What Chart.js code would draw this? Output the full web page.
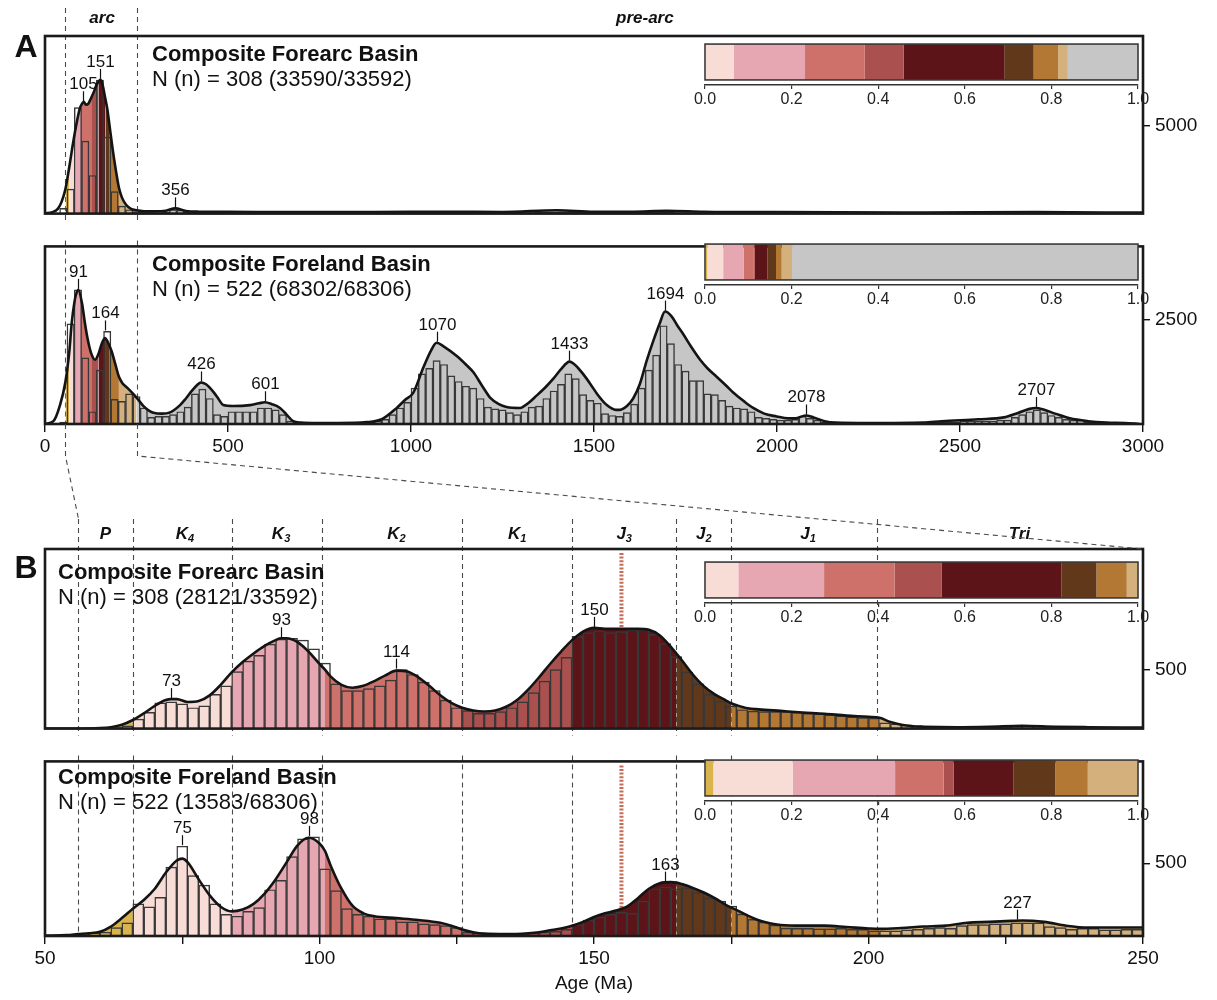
<!DOCTYPE html>
<html>
<head>
<meta charset="utf-8">
<script src="https://cdn.jsdelivr.net/npm/chart.js@4.4.1/dist/chart.umd.min.js"></script>
<style>
  body { margin: 0; background: #fff; }
  #wrap { position: relative; width: 1217px; height: 1000px; overflow: hidden; }
  #wrap canvas { position: absolute; left: 0; }
</style>
</head>
<body>
<div id="wrap">
  <canvas id="a1"></canvas>
  <canvas id="a2"></canvas>
  <canvas id="b1"></canvas>
  <canvas id="b2"></canvas>
  <canvas id="la1"></canvas>
  <canvas id="la2"></canvas>
  <canvas id="lb1"></canvas>
  <canvas id="lb2"></canvas>
  <canvas id="overlay"></canvas>
</div>
<script>
// age bands (Ma) used for the colouring of the KDE area and the proportion bars
const bandEdges = [56, 66, 84, 101, 126, 146, 165, 175, 202, 250];
const bandColors = ["#d9b44c", "#f8dcd6", "#e6a6b2", "#cf716b", "#aa504e",
                    "#5c1418", "#62381a", "#b47835", "#d3b07c", "#c6c6c7"];

// panel A: 20 Myr bins from 0 Ma
const binWidthA = 20;
const forearcCountsA = [
  0, 0, 300, 1400, 6030, 4130, 2170, 7600, 4350, 1250, 430, 220, 110,
  100, 60, 50, 80, 220, 200, 80, 50,
  40, 35, 30, 30, 35, 30, 30, 25, 30, 30, 30, 35, 30, 30, 25, 25, 30, 30, 35, 30,
  30, 30, 35, 35, 40, 35, 35, 40, 40,
  40, 50, 60, 60, 55, 50, 45, 40, 35, 35,
  35, 30, 30, 35, 40, 50, 60, 70, 80, 90,
  100, 95, 85, 70, 60, 50, 45, 45, 50, 55,
  60, 70, 80, 85, 80, 70, 60, 55, 50, 45,
  40, 40, 35, 35, 30, 30, 30, 25, 25, 25,
  25, 25, 25, 20, 20, 20, 20, 20, 20, 20, 20, 20, 20, 20, 20, 20, 20, 20, 20, 20,
  20, 20, 20, 20, 25, 25, 25, 25, 30, 30, 30, 30, 35, 35, 35, 35, 30, 30, 25, 25,
  20, 20, 20, 20, 15, 15, 15, 10, 10, 10
];
const forearcKdeAgeA = [0, 20, 35, 45, 56, 66, 75, 84, 95, 101, 106, 112, 118, 126, 134, 140, 146, 151, 156, 165,
  170, 175, 185, 195, 202, 210, 222, 235, 250, 270, 300, 330, 356, 385, 420, 500, 700, 900, 1100, 1250,
  1400, 1500, 1600, 1700, 1800, 2000, 2400, 2700, 3000];
const forearcKdeA = [16, 82, 272, 652, 1413, 2609, 3805, 4892, 5979, 6250, 6360, 6196, 6250, 6576, 6957, 7283, 7500, 7609, 7446, 6522,
  5979, 5218, 3641, 2283, 1467, 924, 489, 272, 190, 136, 125, 163, 299, 152, 109, 98, 82, 82, 109, 87,
  190, 109, 109, 163, 109, 82, 65, 82, 54];
const forearcPeaksA = [105, 151, 356];

const forelandCountsA = [
  0, 0, 45, 2409, 3227, 1591, 295, 1295, 2227, 591,
  545, 727, 659, 386, 159, 182, 182, 227, 295, 409,
  727, 841, 614, 227, 182, 295, 295, 295, 295, 386,
  386, 341, 227, 68, 45, 23, 23, 23, 23, 23,
  23, 23, 23, 45, 45, 68, 114, 227, 386, 523,
  864, 1205, 1341, 1523, 1432, 1159, 1023, 909, 864, 614,
  409, 364, 341, 273, 227, 295, 409, 432, 614, 795,
  955, 1205, 1091, 705, 568, 500, 250, 205, 182, 273,
  477, 864, 1295, 1659, 2364, 1932, 1432, 1273, 1045, 1045,
  727, 705, 568, 432, 386, 364, 295, 159, 136, 114,
  91, 91, 114, 182, 136, 91, 45, 34, 23, 23,
  23, 23, 23, 23, 23, 23, 23, 23, 23, 23,
  34, 34, 45, 45, 45, 68, 68, 68, 68, 68,
  91, 91, 159, 227, 295, 341, 273, 205, 159, 114,
  91, 91, 45, 45, 23, 23, 23, 0, 0, 0
];
const forelandKdeAgeA = [0, 23, 41, 56, 66, 73, 80, 84, 91, 101, 109, 116, 126, 137, 146, 155, 164, 170, 175, 182,
  191, 202, 212, 223, 241, 250, 269, 285, 296, 320, 340, 369, 385, 401, 415, 426, 440, 460, 475, 487,
  514, 560, 585, 601, 620, 642, 660, 678, 700, 742, 800, 879, 920, 961, 985, 1006, 1034, 1055, 1070, 1090,
  1125, 1150, 1170, 1195, 1216, 1240, 1261, 1298, 1320, 1343, 1370, 1389, 1410, 1433, 1450, 1470, 1489, 1510, 1535, 1560,
  1571, 1590, 1607, 1625, 1644, 1662, 1680, 1694, 1712, 1728, 1744, 1765, 1790, 1810, 1835, 1860, 1881, 1910, 1935, 1965,
  1999, 2030, 2050, 2078, 2100, 2130, 2160, 2250, 2400, 2450, 2550, 2620, 2660, 2690, 2707, 2730, 2760, 2800, 2850, 2900,
  2950, 2990];
const forelandKdeA = [0, 68, 455, 1023, 1705, 2432, 2909, 3091, 3227, 2909, 2432, 2068, 1705, 1546, 1682, 1932, 2068, 2000, 1909, 1750,
  1477, 1136, 977, 886, 727, 636, 432, 318, 273, 250, 273, 455, 614, 795, 932, 1000, 955, 773, 591, 455,
  432, 455, 500, 523, 477, 386, 227, 68, 34, 23, 23, 45, 114, 386, 591, 750, 1364, 1773, 1955, 1864,
  1636, 1432, 1250, 909, 636, 477, 409, 386, 500, 682, 909, 1091, 1318, 1500, 1409, 1205, 977, 705, 455, 341,
  341, 432, 614, 955, 1523, 2000, 2432, 2705, 2591, 2364, 2159, 1864, 1545, 1341, 1136, 932, 750, 545, 386, 250,
  182, 136, 136, 205, 159, 68, 34, 23, 34, 68, 114, 159, 273, 364, 386, 341, 250, 136, 68, 34,
  23, 0];
const forelandPeaksA = [91, 164, 426, 601, 1070, 1433, 1694, 2078, 2707];

// panel B: 2 Myr bins from 50 Ma
const binWidthB = 2;
const forearcCountsB = [
  0, 0, 0, 0, 0, 2, 8, 24, 81, 137,
  218, 226, 210, 177, 193, 290, 363, 484, 572, 621,
  717, 758, 766, 750, 677, 556, 379, 322, 322, 339,
  363, 411, 500, 459, 395, 322, 242, 177, 153, 129,
  129, 145, 177, 226, 306, 403, 500, 605, 782, 814,
  830, 814, 822, 838, 838, 800, 720, 610, 480, 380,
  290, 230, 190, 160, 148, 145, 145, 145, 138, 130,
  124, 116, 108, 100, 93, 88, 48, 40, 32, 24,
  16, 12, 12, 10, 10, 12, 14, 16, 18, 20,
  18, 16, 14, 12, 12, 10, 10, 10, 8, 8
];
const forearcKdeAgeB = [50, 56, 60, 62, 64, 66, 68, 70, 72, 73, 74, 76, 78, 80, 82, 84, 86, 88, 90, 92,
  93, 94, 96, 98, 100, 101, 102, 104, 106, 108, 110, 112, 114, 116, 118, 120, 122, 124, 126, 128,
  130, 132, 134, 136, 138, 140, 142, 144, 146, 148, 150, 152, 154, 156, 158, 160, 162, 164, 165, 166,
  168, 170, 172, 174, 175, 176, 178, 180, 184, 188, 192, 196, 200, 202, 204, 206, 208, 210, 216, 222,
  228, 234, 240, 250];
const forearcKdeB = [0, 0, 4, 12, 32, 73, 129, 193, 242, 250, 250, 226, 234, 282, 371, 476, 564, 637, 701, 750,
  766, 766, 733, 653, 548, 500, 443, 371, 347, 363, 403, 451, 492, 484, 435, 363, 282, 218, 177, 153,
  145, 153, 185, 242, 330, 435, 548, 653, 750, 822, 854, 846, 846, 846, 846, 838, 790, 693, 637, 580,
  459, 360, 290, 240, 215, 198, 172, 163, 150, 137, 126, 110, 100, 92, 56, 32, 20, 16, 12, 16,
  24, 16, 12, 8];
const forearcPeaksB = [73, 93, 114, 150];

const forelandCountsB = [
  2, 3, 6, 18, 21, 26, 58, 91, 221, 201,
  266, 474, 617, 415, 350, 221, 149, 136, 169, 195,
  318, 383, 545, 668, 681, 461, 312, 188, 149, 136,
  117, 117, 97, 97, 84, 78, 71, 58, 26, 19,
  13, 13, 13, 16, 19, 26, 32, 45, 78, 110,
  130, 149, 162, 156, 240, 325, 337, 325, 331, 299,
  260, 240, 205, 150, 115, 95, 75, 55, 52, 52,
  49, 49, 52, 45, 45, 36, 36, 36, 42, 45,
  52, 58, 52, 71, 78, 78, 84, 84, 91, 91,
  91, 65, 58, 45, 52, 52, 42, 42, 45, 45
];
const forelandKdeAgeB = [50, 54, 56, 58, 60, 62, 64, 66, 68, 70, 72, 74, 75, 76, 78, 80, 82, 84, 86, 88,
  90, 92, 94, 96, 98, 100, 101, 102, 104, 106, 108, 110, 114, 118, 122, 124, 126, 128, 130, 134,
  138, 140, 142, 144, 146, 148, 150, 152, 154, 156, 158, 160, 162, 164, 165, 166, 168, 170, 172, 174,
  175, 176, 178, 180, 182, 184, 188, 192, 196, 200, 202, 206, 210, 214, 218, 222, 226, 228, 232, 236,
  240, 244, 250];
const forelandKdeB = [3, 6, 13, 19, 29, 65, 123, 188, 247, 325, 435, 519, 532, 506, 389, 279, 201, 169, 182, 221,
  292, 389, 506, 623, 675, 636, 584, 487, 325, 208, 156, 136, 123, 110, 91, 71, 45, 26, 16, 13,
  19, 26, 39, 52, 71, 97, 130, 156, 175, 201, 260, 325, 363, 370, 367, 357, 331, 299, 260, 214,
  195, 178, 140, 108, 88, 76, 71, 71, 62, 52, 49, 55, 65, 71, 91, 97, 104, 107, 97, 71,
  58, 58, 58];
const forelandPeaksB = [75, 98, 163, 227];

// proportion bars (fraction per band, same order as bandColors)
const forearcFracA = [0, 0.066, 0.165, 0.138, 0.090, 0.232, 0.068, 0.057, 0.022, 0.162];
const forelandFracA = [0.005, 0.037, 0.047, 0.024, 0.002, 0.029, 0.020, 0.013, 0.024, 0.799];
const forearcFracB = [0, 0.077, 0.198, 0.163, 0.109, 0.276, 0.081, 0.070, 0.026, 0];
const forelandFracB = [0.019, 0.184, 0.236, 0.112, 0.023, 0.138, 0.097, 0.075, 0.117, 0];

// period boundaries and names shown in panel B
const periodBounds = [56, 66, 84, 100.5, 126, 146, 165, 175, 201.5];
const periodNames = [["P", ""], ["K", "4"], ["K", "3"], ["K", "2"], ["K", "1"], ["J", "3"], ["J", "2"], ["J", "1"], ["Tri", ""]];
const periodMid = [61, 75.5, 93, 114, 136, 155.5, 170, 189, 227.5];
const markerAge = 155;

const FONT = "'Liberation Sans', Arial, Helvetica, sans-serif";
Chart.defaults.font.family = FONT;
Chart.defaults.color = "#111";

function bandColor(age) {
  if (age < bandEdges[0]) return "rgba(255,255,255,0)";
  for (let i = 1; i < bandEdges.length; i++) {
    if (age < bandEdges[i]) return bandColors[i - 1];
  }
  return bandColors[9];
}

function interp(xs, ys, a) {
  for (let i = 1; i < xs.length; i++) {
    if (a <= xs[i]) {
      const t = (a - xs[i - 1]) / (xs[i] - xs[i - 1]);
      return ys[i - 1] + t * (ys[i] - ys[i - 1]);
    }
  }
  return ys[ys.length - 1];
}

function drawPanelText(ctx, x, y, p) {
  ctx.fillStyle = "#111";
  ctx.textAlign = "left";
  ctx.textBaseline = "middle";
  ctx.font = "bold 22px " + FONT;
  ctx.fillText(p.title[0], x, y);
  ctx.font = "22px " + FONT;
  ctx.fillText(p.title[1], x, y + 25);
}

function decorPlugin(p) {
  return {
    id: "decor",
    beforeDatasetsDraw(chart) {
      const { ctx, chartArea: ca, scales: { x } } = chart;
      ctx.save();
      ctx.strokeStyle = "#4a4a4a";
      ctx.lineWidth = 1.1;
      ctx.setLineDash([5, 4]);
      p.dashAges.forEach(a => {
        const px = Math.round(x.getPixelForValue(a)) + 0.5;
        ctx.beginPath();
        ctx.moveTo(px, ca.top - p.dashUp);
        ctx.lineTo(px, ca.bottom + p.dashDown);
        ctx.stroke();
      });
      if (p.marker) {
        const px = x.getPixelForValue(markerAge);
        ctx.strokeStyle = "#c46c55";
        ctx.lineWidth = 4;
        ctx.setLineDash([2, 1.6]);
        ctx.beginPath();
        ctx.moveTo(px, ca.top + 4);
        ctx.lineTo(px, ca.bottom);
        ctx.stroke();
      }
      ctx.restore();
    },
    afterDatasetsDraw(chart) {
      const { ctx, chartArea: ca, scales: { x, y } } = chart;
      ctx.save();
      // peak labels
      ctx.strokeStyle = "#111";
      ctx.lineWidth = 1.2;
      ctx.fillStyle = "#111";
      ctx.font = "17px " + FONT;
      ctx.textAlign = "center";
      ctx.textBaseline = "alphabetic";
      p.peaks.forEach(a => {
        const bin = Math.floor((a - p.binStart) / p.binWidth);
        const v = Math.max(interp(p.kdeAge, p.kde, a), p.counts[bin] || 0);
        const px = Math.round(x.getPixelForValue(a)) + 0.5;
        const py = y.getPixelForValue(v);
        ctx.beginPath();
        ctx.moveTo(px, py - 1);
        ctx.lineTo(px, py - 11);
        ctx.stroke();
        ctx.fillText(String(a), px, py - 13);
      });
      // frame
      ctx.strokeStyle = "#1a1a1a";
      ctx.lineWidth = 2.6;
      ctx.strokeRect(ca.left, ca.top, ca.right - ca.left, ca.bottom - ca.top);
      drawPanelText(ctx, ca.left + p.titleDx, ca.top + p.titleDy, p);
      if (p.extra) p.extra(ctx, chart);
      ctx.restore();
    }
  };
}

function makePanel(id, p) {
  const canvas = document.getElementById(id);
  canvas.width = 1217;
  canvas.height = p.height;
  canvas.style.top = p.top + "px";
  const kdePoints = p.kdeAge.map((a, i) => ({ x: a, y: p.kde[i] }));
  const bars = p.counts.map((c, i) => ({ x: p.binStart + p.binWidth * (i + 0.5), y: c }));
  return new Chart(canvas, {
    type: "bar",
    data: {
      datasets: [
        {
          type: "line", data: kdePoints, order: 2,
          borderColor: "rgba(0,0,0,0)", borderWidth: 0, pointRadius: 0,
          backgroundColor: "#c6c6c7", fill: "origin", cubicInterpolationMode: "monotone",
          segment: { backgroundColor: c => bandColor((c.p0.parsed.x + c.p1.parsed.x) / 2) }
        },
        {
          type: "bar", data: bars, order: 1,
          backgroundColor: "rgba(0,0,0,0)", borderColor: "#383838", borderWidth: 0.8,
          barPercentage: 1, categoryPercentage: 1, grouped: false
        },
        {
          type: "line", data: kdePoints, order: 0,
          borderColor: "#141414", borderWidth: 2.6, pointRadius: 0, fill: false,
          cubicInterpolationMode: "monotone"
        }
      ]
    },
    options: {
      responsive: false, animation: false, devicePixelRatio: 1,
      layout: { padding: { left: 45, right: 14, top: p.padTop, bottom: p.padBottom } },
      plugins: { legend: { display: false }, tooltip: { enabled: false } },
      scales: {
        x: {
          type: "linear", min: p.xMin, max: p.xMax, offset: false,
          display: !!p.xAxis,
          grid: { offset: false, drawOnChartArea: false, tickLength: 8, color: "#111", lineWidth: 1.4 },
          border: { display: false },
          ticks: {
            stepSize: p.xAxis ? p.xAxis.step : 100, maxRotation: 0, autoSkip: false,
            font: { size: 19 }, color: "#111", padding: 3,
            callback: v => (p.xAxis && v % p.xAxis.labelEvery === 0) ? String(v) : ""
          },
          title: p.xAxis && p.xAxis.title
            ? { display: true, text: p.xAxis.title, font: { size: 19 }, color: "#111" }
            : { display: false },
          afterFit: a => { if (p.xAxis) a.height = p.xAxis.height; }
        },
        y: {
          type: "linear", position: "right", min: 0, max: p.yMax,
          grid: { drawOnChartArea: false, tickLength: 7, color: "#111", lineWidth: 1.4 },
          border: { display: false },
          ticks: { font: { size: 19 }, color: "#111", padding: 5, callback: v => String(v) },
          afterBuildTicks: a => { a.ticks = [{ value: p.yTick }]; },
          afterFit: a => { a.width = 60; }
        }
      }
    },
    plugins: [decorPlugin(p)]
  });
}

function makeProportion(id, top, fractions) {
  const canvas = document.getElementById(id);
  canvas.width = 470;
  canvas.height = 66;
  canvas.style.top = top + "px";
  canvas.style.left = "690px";
  const outline = {
    id: "outline",
    afterDatasetsDraw(chart) {
      const { ctx, scales: { x } } = chart;
      const el = chart.getDatasetMeta(0).data[0];
      const x0 = x.getPixelForValue(0), x1 = x.getPixelForValue(1);
      ctx.save();
      ctx.strokeStyle = "#3a3a3a";
      ctx.lineWidth = 1.6;
      ctx.strokeRect(x0, el.y - el.height / 2, x1 - x0, el.height);
      ctx.restore();
    }
  };
  return new Chart(canvas, {
    type: "bar",
    data: {
      labels: [""],
      datasets: fractions.map((f, i) => ({
        data: [f], backgroundColor: bandColors[i], borderWidth: 0,
        barPercentage: 0.78, categoryPercentage: 1
      }))
    },
    options: {
      indexAxis: "y", responsive: false, animation: false, devicePixelRatio: 1,
      layout: { padding: { left: 15, right: 22, top: 0, bottom: 0 } },
      plugins: { legend: { display: false }, tooltip: { enabled: false } },
      scales: {
        x: {
          stacked: true, min: 0, max: 1,
          grid: { drawOnChartArea: false, tickLength: 4, color: "#333", lineWidth: 1.2 },
          border: { display: true, color: "#333", width: 1.5 },
          ticks: { stepSize: 0.2, font: { size: 16 }, color: "#222", padding: 1, maxRotation: 0,
                   callback: v => v.toFixed(1) },
          afterFit: a => { a.height = 20; }
        },
        y: { stacked: true, display: false }
      }
    },
    plugins: [outline]
  });
}

function italicLabel(ctx, base, sub, cx, cy) {
  ctx.font = "italic bold 17px " + FONT;
  const w1 = ctx.measureText(base).width;
  ctx.font = "italic bold 11px " + FONT;
  const w2 = sub ? ctx.measureText(sub).width : 0;
  const start = cx - (w1 + w2) / 2;
  ctx.textAlign = "left";
  ctx.textBaseline = "middle";
  ctx.font = "italic bold 17px " + FONT;
  ctx.fillText(base, start, cy);
  if (sub) {
    ctx.font = "italic bold 11px " + FONT;
    ctx.fillText(sub, start + w1, cy + 5);
  }
}

const chartA1 = makePanel("a1", {
  top: 0, height: 230, padTop: 36, padBottom: 8,
  xMin: 0, xMax: 3000, yMax: 10109, yTick: 5000, xAxis: null,
  binStart: 0, binWidth: binWidthA, counts: forearcCountsA,
  kdeAge: forearcKdeAgeA, kde: forearcKdeA, peaks: forearcPeaksA,
  dashAges: [56, 250], dashUp: 28, dashDown: 8,
  title: ["Composite Forearc Basin", "N (n) = 308 (33590/33592)"], titleDx: 107, titleDy: 19,
  extra(ctx, chart) {
    const x = chart.scales.x;
    ctx.fillStyle = "#111";
    ctx.textAlign = "center";
    ctx.textBaseline = "middle";
    ctx.font = "bold 32px " + FONT;
    ctx.fillText("A", 26, 48);
    ctx.font = "italic bold 17px " + FONT;
    ctx.fillText("arc", x.getPixelForValue(156), 18);
    ctx.fillText("pre-arc", x.getPixelForValue(1639), 18);
  }
});

const chartA2 = makePanel("a2", {
  top: 230, height: 236, padTop: 6, padBottom: 0,
  xMin: 0, xMax: 3000, yMax: 4273, yTick: 2500,
  xAxis: { step: 500, labelEvery: 500, height: 42 },
  binStart: 0, binWidth: binWidthA, counts: forelandCountsA,
  kdeAge: forelandKdeAgeA, kde: forelandKdeA, peaks: forelandPeaksA,
  dashAges: [56, 250], dashUp: 6, dashDown: 0,
  title: ["Composite Foreland Basin", "N (n) = 522 (68302/68306)"], titleDx: 107, titleDy: 19
});

const chartB1 = makePanel("b1", {
  top: 505, height: 240, padTop: 44, padBottom: 7,
  xMin: 50, xMax: 250, yMax: 1523, yTick: 500, xAxis: null, marker: true,
  binStart: 50, binWidth: binWidthB, counts: forearcCountsB,
  kdeAge: forearcKdeAgeB, kde: forearcKdeB, peaks: forearcPeaksB,
  dashAges: periodBounds, dashUp: 30, dashDown: 7,
  title: ["Composite Forearc Basin", "N (n) = 308 (28121/33592)"], titleDx: 13, titleDy: 24,
  extra(ctx, chart) {
    const x = chart.scales.x, ca = chart.chartArea;
    ctx.fillStyle = "#111";
    ctx.textAlign = "center";
    ctx.textBaseline = "middle";
    ctx.font = "bold 32px " + FONT;
    ctx.fillText("B", 26, ca.top + 20);
    periodNames.forEach((n, i) => italicLabel(ctx, n[0], n[1], x.getPixelForValue(periodMid[i]), ca.top - 15));
  }
});

const chartB2 = makePanel("b2", {
  top: 745, height: 254, padTop: 6, padBottom: 0,
  xMin: 50, xMax: 250, yMax: 1200, yTick: 500, marker: true,
  xAxis: { step: 25, labelEvery: 50, height: 63, title: "Age (Ma)" },
  binStart: 50, binWidth: binWidthB, counts: forelandCountsB,
  kdeAge: forelandKdeAgeB, kde: forelandKdeB, peaks: forelandPeaksB,
  dashAges: periodBounds, dashUp: 6, dashDown: 0,
  title: ["Composite Foreland Basin", "N (n) = 522 (13583/68306)"], titleDx: 13, titleDy: 17
});

makeProportion("la1", 39, forearcFracA);
makeProportion("la2", 239, forelandFracA);
makeProportion("lb1", 557, forearcFracB);
makeProportion("lb2", 755, forelandFracB);

// dashed connectors between the full-range panel and the 50-250 Ma panel
const ov = document.getElementById("overlay");
ov.width = 1217; ov.height = 1000; ov.style.top = "0px";
const octx = ov.getContext("2d");
const aBottom = 230 + chartA2.chartArea.bottom;
const bTop = 505 + chartB1.chartArea.top;
const xa56 = chartA2.scales.x.getPixelForValue(56), xa250 = chartA2.scales.x.getPixelForValue(250);
const xb56 = chartB1.scales.x.getPixelForValue(56), xb250 = chartB1.scales.x.getPixelForValue(250);
octx.strokeStyle = "#4a4a4a";
octx.lineWidth = 1.1;
octx.setLineDash([5, 4]);
octx.beginPath();
octx.moveTo(Math.round(xa56) + 0.5, aBottom);
octx.lineTo(Math.round(xa56) + 0.5, aBottom + 32);
octx.lineTo(Math.round(xb56) + 0.5, bTop - 30);
octx.moveTo(Math.round(xa250) + 0.5, aBottom);
octx.lineTo(Math.round(xa250) + 0.5, aBottom + 32);
octx.lineTo(xb250, bTop);
octx.stroke();
</script>
</body>
</html>
